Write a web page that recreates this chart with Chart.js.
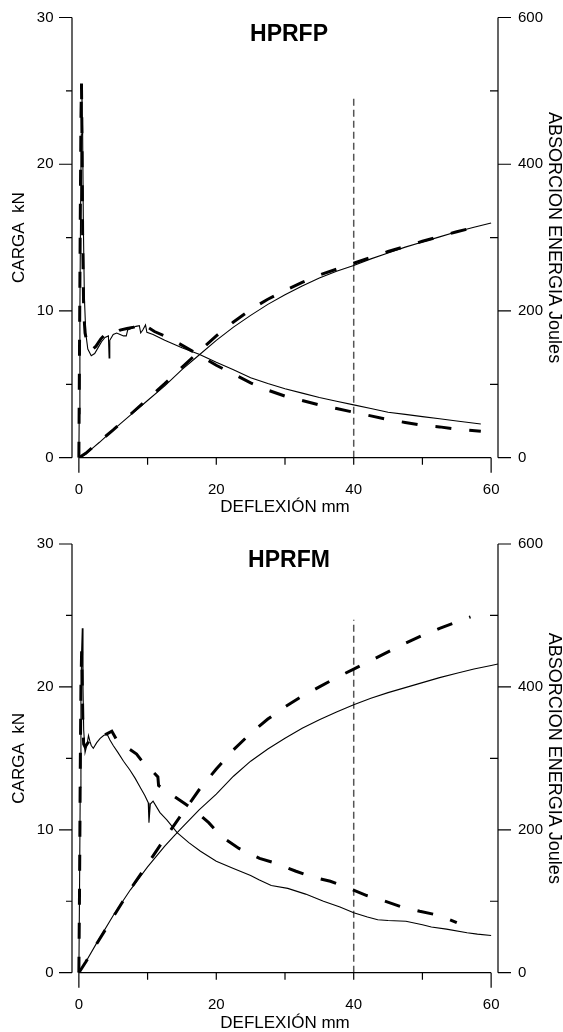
<!DOCTYPE html>
<html>
<head>
<meta charset="utf-8">
<title>HPRFP / HPRFM</title>
<script src="https://cdn.jsdelivr.net/npm/chart.js@4.4.1/dist/chart.umd.min.js"></script>
<style>
  body { margin: 0; background: #fff; }
  canvas { display: block; }
</style>
</head>
<body>
<canvas id="chartP" width="563" height="516"></canvas>
<canvas id="chartM" width="563" height="516"></canvas>
<script>
// ---- tick values ----
var xLabelTicks = [0, 20, 40, 60];
var xLongMarks = [0, 60];
var xShortMarks = [10, 20, 30, 40, 50];
var loadTicks = [0, 10, 20, 30];
var loadMinor = [5, 15, 25];
var energyTicks = [0, 200, 400, 600];
var energyMinor = [100, 300, 500];

// ---- HPRFP: [deflexion mm, value] ----
var hprfpLoadSolid = [[0,0],[0.05,3],[0.15,10],[0.25,17],[0.35,22],[0.45,24.8],[0.55,22],[0.65,16],[0.8,11],[1.0,8.5],
  [1.3,7.4],[1.8,6.95],[2.3,7.1],[2.8,7.5],[3.3,7.9],[3.8,8.2],[4.3,8.3],[4.4,6.8],[4.5,8.0],[5.0,8.4],
  [5.5,8.5],[6.0,8.4],[6.5,8.3],[6.9,8.3],[7.1,8.7],[7.6,8.8],[8.3,8.95],[8.8,9.0],[9.0,8.5],[9.3,8.7],
  [9.7,9.05],[9.9,8.55],[10.8,8.4],[12.5,8.0],[15,7.5],[17.5,7.05],[20,6.5],[22.5,6.0],[25,5.45],[27.5,5.05],
  [30,4.7],[32.5,4.4],[35,4.1],[37.5,3.85],[40,3.6],[42.5,3.35],[45,3.1],[47.5,2.95],[50,2.8],[52.5,2.65],
  [55,2.5],[58.5,2.3]];
var hprfpLoadDash = [[0,0],[0.1,8],[0.2,16],[0.3,23],[0.38,25.5],[0.45,22],[0.55,15],[0.7,10],[0.9,8.5],[1.3,7.6],
  [1.8,7.3],[2.5,7.6],[3.2,8.1],[3.6,8.3],[4.0,8.3],[4.3,8.2],[5,8.4],[6,8.7],[7,8.8],[8,8.9],[9,9.1],[9.6,9.2],
  [10,8.9],[11,8.6],[12.5,8.3],[14.5,7.8],[17.5,7.0],[20,6.3],[22.5,5.7],[25,5.1],[27.5,4.6],[30,4.2],[32.5,3.9],
  [35,3.6],[37.5,3.35],[40,3.1],[42.5,2.85],[45,2.6],[47.5,2.4],[50,2.2],[52.5,2.1],[55,1.95],[58.5,1.8]];
var hprfpEnergySolid = [[0,0],[0.5,2],[1,5],[2,13],[3,21],[5,38],[7.5,58],[10,78],[12.5,98],[15,120],[17.5,140],
  [20,160],[22.5,178],[25,194],[27.5,209],[30,222],[32.5,234],[35,245],[37.5,254],[40,262],[42.5,271],[45,279],
  [47.5,287],[50,294],[52.5,301],[55,308],[57.5,314],[60,320]];
var hprfpEnergyDash = [[0,0],[1,6],[3,22],[5,38],[7.5,59],[10,80],[12.5,101],[15,123],[17.5,145],[20,166],
  [22.5,185],[25,202],[27.5,216],[30,228],[32.5,239],[35,249],[37.5,257],[40,265],[45,281],[50,295],[55,308],[58.5,316]];
var hprfpRefLine = [[40,0],[40,24.6]];

// ---- HPRFM ----
var hprfmLoadSolid = [[0,0],[0.1,6],[0.2,13],[0.3,19],[0.4,22.5],[0.5,24.1],[0.6,20],[0.7,17],[0.9,15.4],[1.2,16.0],
  [1.4,16.6],[1.6,16.2],[1.8,15.9],[2.1,15.7],[2.6,16.1],[3.1,16.4],[3.6,16.6],[4.1,16.7],[4.5,16.3],[5.0,15.9],
  [5.7,15.4],[6.5,14.8],[7.4,14.2],[8.2,13.6],[8.9,13.0],[9.6,12.4],[10.1,11.9],[10.2,10.5],[10.4,11.8],[10.8,12.0],
  [11.8,11.2],[12.8,10.7],[14.3,9.8],[16,9.1],[17.7,8.5],[20,7.8],[22.5,7.3],[25,6.8],[26.2,6.5],[28,6.1],
  [30.4,5.9],[33,5.5],[35.6,5.0],[38,4.6],[40,4.2],[42,3.9],[43.5,3.7],[45,3.65],[47.6,3.6],[50,3.35],
  [51.3,3.2],[53.5,3.05],[56.5,2.8],[58,2.7],[60,2.6]];
var hprfmLoadDash = [[0,0],[0.1,6],[0.2,14],[0.3,20],[0.4,22.5],[0.5,20],[0.6,17],[0.7,16],[0.9,15.8],[1.5,16.2],
  [2.5,16.3],[3.3,16.5],[4,16.7],[4.8,16.9],[5.5,16.3],[6.5,15.9],[7.5,15.6],[8.4,15.3],[9.2,14.8],[10.1,14.4],
  [11.5,13.7],[11.6,13.1],[12.5,12.8],[14,12.3],[15.5,11.8],[17,11.3],[18.9,10.5],[20.8,9.5],[23.3,8.7],[26.3,8.0],
  [28.4,7.7],[31.6,7.1],[33.9,6.7],[36.6,6.4],[38.9,6.0],[41.9,5.4],[44,5.1],[47,4.6],[49.6,4.3],[52.5,4.0],[55,3.5]];
var hprfmEnergySolid = [[0,0],[1,15],[2.5,40],[5,80],[7.5,116],[10,148],[12.5,177],[14,193],[15,203],[17.5,228],
  [20,250],[22.5,275],[25,296],[27.5,313],[30,328],[32.5,342],[35,354],[37.5,365],[40,375],[42.5,384],[45,392],
  [47.5,399],[50,406],[52.5,413],[55,419],[57.5,425],[60,430],[61,432]];
var hprfmEnergyDash = [[0,0],[1,15],[2.5,39],[5,78],[7.5,117],[10,152],[12.5,188],[15,222],[17.5,256],[20,285],
  [22.5,312],[25,335],[27.5,355],[30,372],[32.5,387],[35,400],[37.5,413],[40,425],[42.5,437],[45,449],[47.5,461],
  [50,472],[52.5,482],[55,491],[57,498]];
var hprfmRefLine = [[40,0],[40,24.7]];

Chart.defaults.font.family = '"Liberation Sans", Arial, sans-serif';
Chart.defaults.color = '#000';

function toXY(pairs) {
    return pairs.map(function(p) { return {x: p[0], y: p[1]}; });
}

function setTicks(values) {
    return function(axis) {
        axis.ticks = values.map(function(v) { return {value: v}; });
    };
}

// invisible chart.js ticks, only used to space the labels; real marks are drawn by framePlugin
var hiddenGrid = { drawOnChartArea: false, drawTicks: true, tickLength: 13, color: 'rgba(0,0,0,0)' };

// draws the axis lines, tick marks and the title inside the plot
var framePlugin = {
    id: 'frame',
    afterDatasetsDraw: function(chart, args, opts) {
        var ctx = chart.ctx, a = chart.chartArea;
        var x = chart.scales.x, y = chart.scales.y, y2 = chart.scales.y2;
        ctx.save();
        ctx.strokeStyle = '#000';
        ctx.lineWidth = 1.2;
        ctx.beginPath();

        // left axis
        var l = a.left;
        ctx.moveTo(l, y.getPixelForValue(y.min));
        ctx.lineTo(l, y.getPixelForValue(y.max));
        loadTicks.forEach(function(v) { var p = y.getPixelForValue(v); ctx.moveTo(l - 13, p); ctx.lineTo(l, p); });
        loadMinor.forEach(function(v) { var p = y.getPixelForValue(v); ctx.moveTo(l - 6, p); ctx.lineTo(l, p); });

        // right axis
        var r = a.right;
        ctx.moveTo(r, y2.getPixelForValue(y2.min));
        ctx.lineTo(r, y2.getPixelForValue(y2.max));
        energyTicks.forEach(function(v) { var p = y2.getPixelForValue(v); ctx.moveTo(r, p); ctx.lineTo(r + 13, p); });
        energyMinor.forEach(function(v) { var p = y2.getPixelForValue(v); ctx.moveTo(r - 8, p); ctx.lineTo(r, p); });

        // bottom axis, only between first and last label
        var b = a.bottom;
        ctx.moveTo(x.getPixelForValue(xLabelTicks[0]), b);
        ctx.lineTo(x.getPixelForValue(xLabelTicks[xLabelTicks.length - 1]), b);
        xLongMarks.forEach(function(v) { var p = x.getPixelForValue(v); ctx.moveTo(p, b); ctx.lineTo(p, b + 15); });
        xShortMarks.forEach(function(v) { var p = x.getPixelForValue(v); ctx.moveTo(p, b); ctx.lineTo(p, b + 7); });
        ctx.stroke();

        // title
        ctx.fillStyle = '#000';
        ctx.font = 'bold 23px "Liberation Sans", Arial, sans-serif';
        ctx.textAlign = 'center';
        ctx.textBaseline = 'middle';
        ctx.fillText(opts.text, (a.left + a.right) / 2 + 4, a.top + 17);
        ctx.restore();
    }
};

function makeChart(id, title, loadSolid, loadDash, energySolid, energyDash, refLine, padTop, xHeight) {
    var ctx = document.getElementById(id).getContext('2d');
    return new Chart(ctx, {
        type: 'line',
        data: {
            datasets: [
                { data: toXY(loadSolid), yAxisID: 'y', borderColor: '#000', borderWidth: 1.1 },
                { data: toXY(loadDash), yAxisID: 'y', borderColor: '#000', borderWidth: 3, borderDash: [16, 18] },
                { data: toXY(energySolid), yAxisID: 'y2', borderColor: '#000', borderWidth: 1.1 },
                { data: toXY(energyDash), yAxisID: 'y2', borderColor: '#000', borderWidth: 3, borderDash: [16, 18] },
                { data: toXY(refLine), yAxisID: 'y', borderColor: '#555', borderWidth: 1.5, borderDash: [7, 4] }
            ]
        },
        options: {
            responsive: false,
            animation: false,
            devicePixelRatio: 1,
            layout: { padding: { top: padTop, left: 0, right: 0, bottom: 0 } },
            elements: { point: { radius: 0 }, line: { tension: 0, fill: false } },
            plugins: {
                legend: { display: false },
                tooltip: { enabled: false },
                frame: { text: title }
            },
            scales: {
                x: {
                    type: 'linear', position: 'bottom', min: -1, max: 61,
                    grid: { display: false, drawTicks: false }, border: { display: false },
                    afterBuildTicks: setTicks(xLabelTicks),
                    afterFit: function(s) { s.height = xHeight; },
                    ticks: { padding: 23, font: { size: 15 }, autoSkip: false, maxRotation: 0 },
                    title: { display: true, text: 'DEFLEXIÓN mm', font: { size: 17, lineHeight: 1 }, padding: 0 }
                },
                y: {
                    position: 'left', min: 0, max: 30,
                    grid: hiddenGrid, border: { display: false },
                    afterBuildTicks: setTicks(loadTicks),
                    afterFit: function(s) { s.width = 72; },
                    ticks: { padding: 5.5, font: { size: 15 } },
                    title: { display: true, text: 'CARGA  kN', font: { size: 17, lineHeight: 1 }, padding: { top: 10.5 } }
                },
                y2: {
                    position: 'right', min: 0, max: 600,
                    grid: hiddenGrid, border: { display: false },
                    afterBuildTicks: setTicks(energyTicks),
                    afterFit: function(s) { s.width = 65; },
                    ticks: { padding: 7, font: { size: 15 } },
                    title: { display: true, text: 'ABSORCION ENERGIA Joules', font: { size: 18, lineHeight: 1 }, padding: 0 }
                }
            }
        },
        plugins: [framePlugin]
    });
}

makeChart('chartP', 'HPRFP', hprfpLoadSolid, hprfpLoadDash, hprfpEnergySolid, hprfpEnergyDash, hprfpRefLine, 17.5, 58.3);
makeChart('chartM', 'HPRFM', hprfmLoadSolid, hprfmLoadDash, hprfmEnergySolid, hprfmEnergyDash, hprfmRefLine, 28, 59.3);
</script>
</body>
</html>
